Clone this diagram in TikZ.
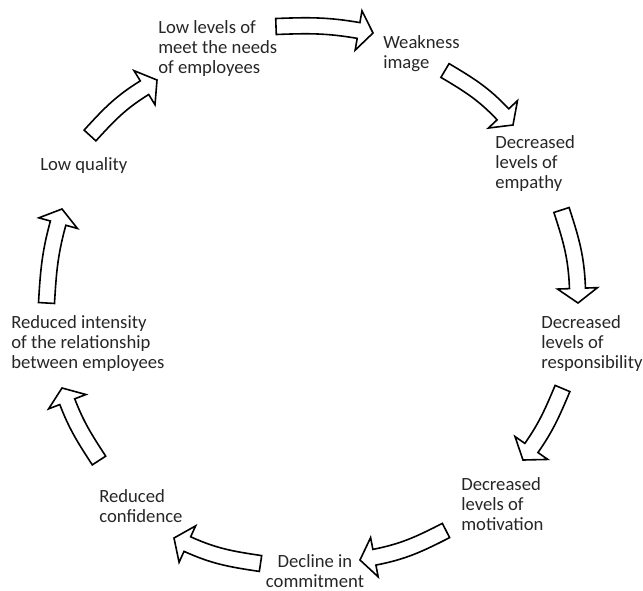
\documentclass[tikz,border=0pt]{standalone}
\usepackage{fontspec}
\setmainfont{Carlito}
\usetikzlibrary{calc}

\tikzset{
  label text/.style={font=\fontsize{14}{15}\selectfont, text=black!85, align=left, inner sep=0pt},
  block arrow/.style={draw=black, fill=white, line width=1.2pt, line join=miter}
}
\def\shafthalf{6pt}
\def\headhalf{15pt}
\def\headlen{11pt}
% curved block arrow: tail, tip, bend
\newcommand{\cyclearrow}[3]{%
  \path (#1); \pgfgetlastxy{\tailx}{\taily}
  \path (#2); \pgfgetlastxy{\tipx}{\tipy}
  \pgfmathsetmacro{\chordang}{atan2(\tipy-\taily,\tipx-\tailx)}
  \pgfmathsetmacro{\outang}{\chordang+#3}
  \pgfmathsetmacro{\inang}{\chordang-#3}
  \pgfmathsetmacro{\backang}{\inang+180}
  \draw[block arrow] ($(#1)+(\outang+90:\shafthalf)$)
    to[out=\outang, in=\backang] ($(#2)+(\backang:\headlen)+(\inang+90:\shafthalf)$)
    -- ($(#2)+(\backang:\headlen)+(\inang+90:\headhalf)$)
    -- (#2)
    -- ($(#2)+(\backang:\headlen)+(\inang-90:\headhalf)$)
    -- ($(#2)+(\backang:\headlen)+(\inang-90:\shafthalf)$)
    to[out=\backang, in=\outang] ($(#1)+(\outang-90:\shafthalf)$) -- cycle;
}

\begin{document}
\begin{tikzpicture}[x=0.75pt, y=-0.75pt]
  \useasboundingbox (0,0) rectangle (643,590);

  % the nine stages (base = last line)
  \node[label text, anchor=base west] (lowlev) at (158,73) {Low levels of\\meet the needs\\of employees};
  \node[label text, anchor=base west] (weak) at (383,68) {Weakness\\image};
  \node[label text, anchor=base west] (empathy) at (495,188) {Decreased\\levels of\\empathy};
  \node[label text, anchor=base west] (resp) at (541,368) {Decreased\\levels of\\responsibility};
  \node[label text, anchor=base west] (motiv) at (461,530) {Decreased\\levels of\\motivation};
  \node[label text, align=center, anchor=base] (commit) at (315,587) {Decline in\\commitment};
  \node[label text, anchor=base west] (confid) at (99,522) {Reduced\\confidence};
  \node[label text, anchor=base west] (relat) at (11,368) {Reduced intensity\\of the relationship\\between employees};
  \node[label text, anchor=base west] (lowqual) at (40,170) {Low quality};

  % arrow ends
  \coordinate (lowlev-out) at (276,26.5);   \coordinate (weak-in) at (373,33);
  \coordinate (weak-out) at (445,70.5);     \coordinate (empathy-in) at (513,125);
  \coordinate (empathy-out) at (561.5,210); \coordinate (resp-in) at (578,303);
  \coordinate (resp-out) at (562.5,388.5);  \coordinate (motiv-in) at (523,460);
  \coordinate (motiv-out) at (446,530.5);   \coordinate (commit-in) at (360,560);
  \coordinate (commit-out) at (260.5,563.5); \coordinate (confid-in) at (174,538);
  \coordinate (confid-out) at (99,460.5);   \coordinate (relat-in) at (62,388);
  \coordinate (relat-out) at (46.5,303);    \coordinate (lowqual-in) at (62,209);
  \coordinate (lowqual-out) at (90,135.5);  \coordinate (lowlev-in) at (157,80);

  \cyclearrow{lowlev-out}{weak-in}{6}
  \cyclearrow{weak-out}{empathy-in}{8}
  \cyclearrow{empathy-out}{resp-in}{8}
  \cyclearrow{resp-out}{motiv-in}{6}
  \cyclearrow{motiv-out}{commit-in}{8}
  \cyclearrow{commit-out}{confid-in}{8}
  \cyclearrow{confid-out}{relat-in}{6}
  \cyclearrow{relat-out}{lowqual-in}{6}
  \cyclearrow{lowqual-out}{lowlev-in}{8}
\end{tikzpicture}
\end{document}
